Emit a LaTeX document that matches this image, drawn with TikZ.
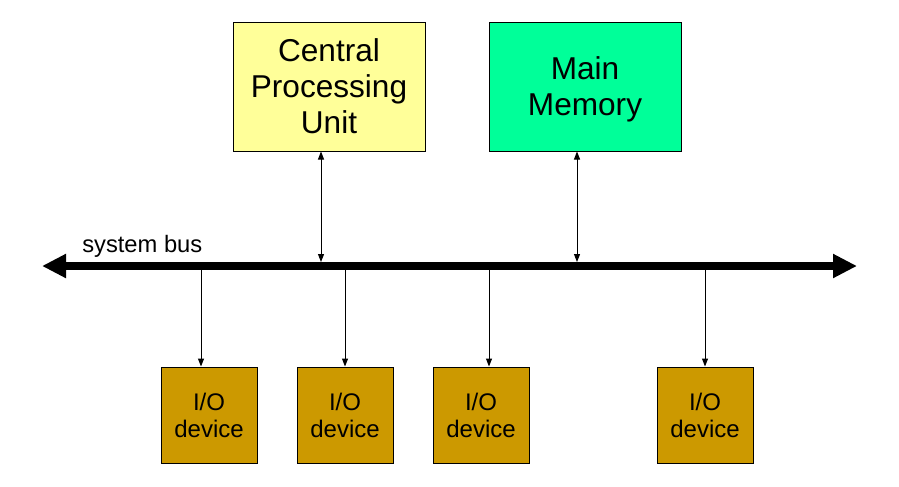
\documentclass[tikz,border=0pt]{standalone}
\usepackage{fontspec}
\setmainfont{Liberation Sans}
\usetikzlibrary{arrows.meta}
\definecolor{cpuyellow}{HTML}{FFFF99}
\definecolor{memgreen}{HTML}{00FF99}
\definecolor{iobrown}{HTML}{CC9900}
\begin{document}
\begin{tikzpicture}[x=0.75pt,y=-0.75pt,
  bigbox/.style={draw=black,line width=0.75pt,minimum width=144pt,minimum height=96.75pt,inner sep=0pt,align=center,font=\fontsize{23.7}{27}\selectfont},
  iobox/.style={draw=black,line width=0.75pt,fill=iobrown,minimum width=72pt,minimum height=72pt,inner sep=0pt,align=center,font=\fontsize{18}{20.25}\selectfont},
  thin/.style={line width=0.75pt,{Triangle[length=6pt,width=4.5pt]}-{Triangle[length=6pt,width=4.5pt]}},
  down/.style={line width=0.75pt,-{Triangle[length=6pt,width=4.5pt]}},
  bus/.style={line width=6pt,{Triangle[length=18pt,width=17pt]}-{Triangle[length=18pt,width=17pt]}}]
\useasboundingbox (0,0) rectangle (899,486);
\node[bigbox,fill=cpuyellow] (cpu) at (329,86.5) {Central\\Processing\\Unit};
\node[bigbox,fill=memgreen] (mem) at (585,86.5) {};
\node[align=center,inner sep=0pt,font=\fontsize{23.7}{27}\selectfont] (memtxt) at (585,89) {Main\\Memory};
\coordinate (busL) at (42,266);
\coordinate (busR) at (857,266);
\draw[bus] (busL) -- (busR);
\node[anchor=base west,font=\fontsize{17.8}{20}\selectfont,inner sep=0pt] (lbl) at (82,252) {system bus};
\coordinate (cb) at (321,262);
\coordinate (mb) at (577,262);
\draw[thin] (cpu.south -| cb) -- (cb);
\draw[thin] (mem.south -| mb) -- (mb);
\node[iobox] (io1) at (209,415) {I/O\\device};
\node[iobox] (io2) at (345,415) {I/O\\device};
\node[iobox] (io3) at (481,415) {I/O\\device};
\node[iobox] (io4) at (705,415) {I/O\\device};
\coordinate (b1) at (201,270);
\coordinate (b2) at (345,270);
\coordinate (b3) at (489,270);
\coordinate (b4) at (705,270);
\draw[down] (b1) -- (b1 |- io1.north);
\draw[down] (b2) -- (b2 |- io2.north);
\draw[down] (b3) -- (b3 |- io3.north);
\draw[down] (b4) -- (b4 |- io4.north);
\end{tikzpicture}
\end{document}
